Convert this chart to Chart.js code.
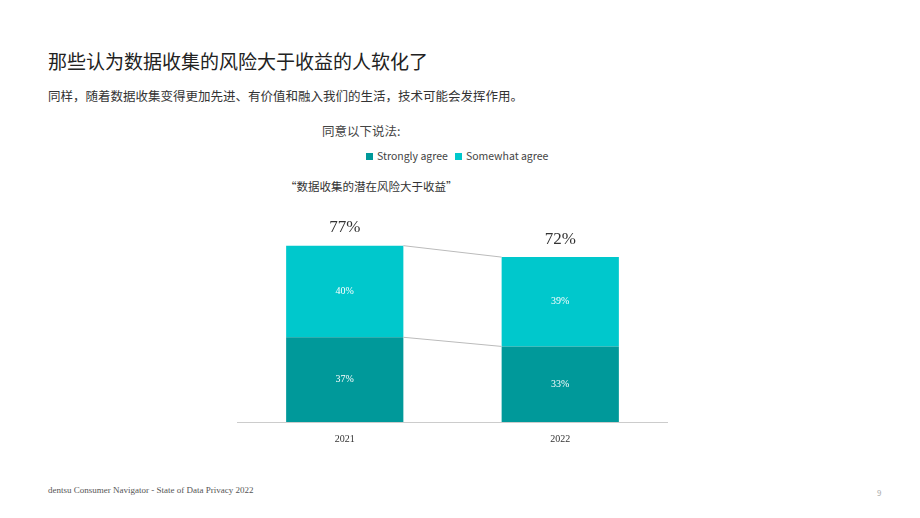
<!DOCTYPE html>
<html><head><meta charset="utf-8">
<script src="https://cdn.jsdelivr.net/npm/chart.js@4"></script>
<style>
body{margin:0;width:920px;height:518px;background:#fff;position:relative;font-family:"Noto Sans CJK SC","Noto Sans",sans-serif;overflow:hidden}
.t{position:absolute;white-space:nowrap}
.lg span{display:inline-block;width:7px;height:7px;margin-right:4px;vertical-align:0}
</style></head><body>
<div class="t" style="left:48px;top:47px;font-size:19px;color:#222">那些认为数据收集的风险大于收益的人软化了</div>
<div class="t" style="left:48px;top:86px;font-size:12.5px;color:#333">同样，随着数据收集变得更加先进、有价值和融入我们的生活，技术可能会发挥作用。</div>
<div class="t" style="left:322px;top:121px;font-size:12.5px;color:#444">同意以下说法:</div>
<div class="t lg" style="left:366px;top:148px;font-size:10.5px;color:#444"><span style="background:#00999a"></span>Strongly agree&nbsp;&nbsp;&nbsp;<span style="background:#00c8cc"></span>Somewhat agree</div>
<div class="t" style="left:285px;top:178px;font-size:11.5px;color:#333">“数据收集的潜在风险大于收益”</div>
<div class="t" style="left:48px;top:485px;font-size:9px;color:#555;font-family:'Liberation Serif',serif">dentsu Consumer Navigator - State of Data Privacy 2022</div>
<div class="t" style="left:877px;top:487px;font-size:8px;color:#aaa">9</div>
<div style="position:absolute;left:237px;top:180px;width:431px;height:268px"><canvas id="c"></canvas></div>
<script>
const years = ['2021', '2022'];
const strongly = [37, 33];
const somewhat = [40, 39];
const totals = [77, 72];

const connectors = {
  id: 'connectors',
  afterDatasetsDraw(chart) {
    const ctx = chart.ctx, y = chart.scales.y;
    const m0 = chart.getDatasetMeta(0).data, m1 = chart.getDatasetMeta(1).data;
    ctx.save();
    ctx.strokeStyle = '#bbb'; ctx.lineWidth = 1;
    [[strongly[0], strongly[1]], [totals[0], totals[1]]].forEach(([a, b]) => {
      ctx.beginPath();
      ctx.moveTo(m0[0].x + m0[0].width / 2, y.getPixelForValue(a));
      ctx.lineTo(m0[1].x - m0[1].width / 2, y.getPixelForValue(b));
      ctx.stroke();
    });
    ctx.textAlign = 'center'; ctx.textBaseline = 'middle';
    ctx.font = '10px "Liberation Serif", serif'; ctx.fillStyle = '#fff';
    [0, 1].forEach(i => {
      ctx.fillText(strongly[i] + '%', m0[i].x, y.getPixelForValue(strongly[i] / 2));
      ctx.fillText(somewhat[i] + '%', m1[i].x, y.getPixelForValue(strongly[i] + somewhat[i] / 2));
      ctx.fillStyle = '#333'; ctx.font = '17px "Liberation Serif", serif';
      ctx.fillText(totals[i] + '%', m1[i].x, y.getPixelForValue(totals[i]) - 18);
      ctx.fillStyle = '#fff'; ctx.font = '10px "Liberation Serif", serif';
    });
    ctx.restore();
  }
};

new Chart(document.getElementById('c'), {
  type: 'bar',
  data: {
    labels: years,
    datasets: [
      { label: 'Strongly agree', data: strongly, backgroundColor: '#00999a' },
      { label: 'Somewhat agree', data: somewhat, backgroundColor: '#00c8cc' }
    ]
  },
  options: {
    responsive: true, maintainAspectRatio: false, animation: false,
    layout: { padding: { top: 13 } },
    plugins: { legend: { display: false }, tooltip: { enabled: false } },
    datasets: { bar: { barPercentage: 1, categoryPercentage: 0.544 } },
    scales: {
      x: { stacked: true, grid: { display: false }, border: { color: '#ccc' },
           ticks: { color: '#333', font: { size: 10, family: 'Liberation Serif' } } },
      y: { stacked: true, min: 0, max: 100, display: false }
    }
  },
  plugins: [connectors]
});
</script>
</body></html>
